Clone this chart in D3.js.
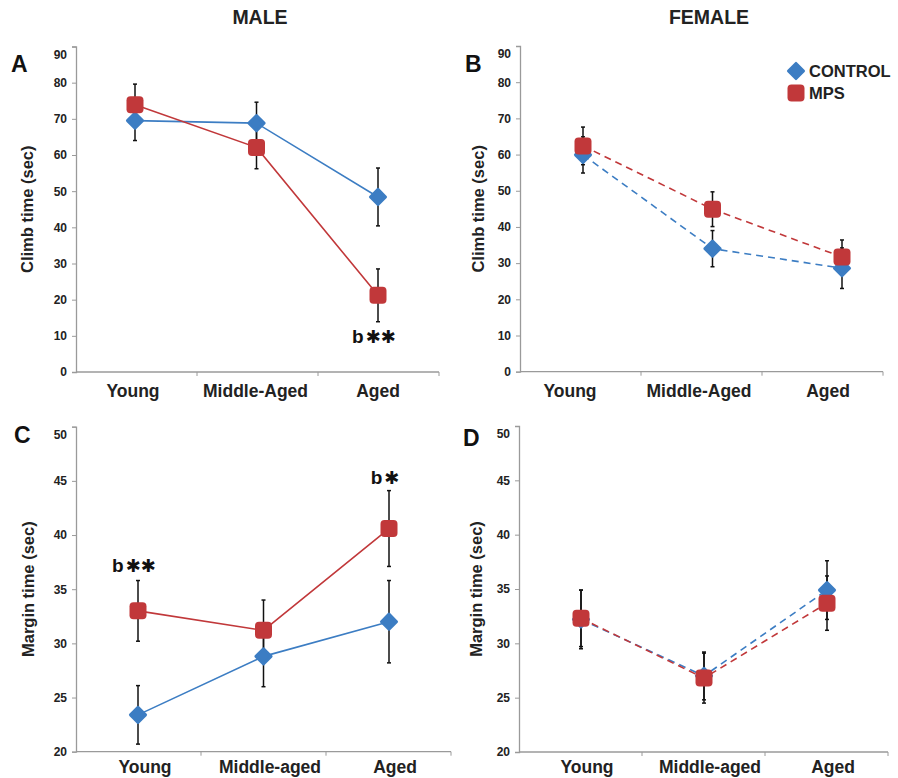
<!DOCTYPE html>
<html>
<head>
<meta charset="utf-8">
<script src="https://cdn.jsdelivr.net/npm/d3@7"></script>
<style>
  body { margin: 0; background: #fff; }
  text { font-family: "Liberation Sans", Arial, sans-serif; font-weight: bold; }
</style>
</head>
<body>
<svg width="898" height="778"></svg>
<script>
// categories
var ageGroupsUpper = ['Young', 'Middle-Aged', 'Aged'];
var ageGroupsLower = ['Young', 'Middle-aged', 'Aged'];

// climb time (sec), mean and error
var climbMaleControl = [69.5, 68.8, 48.4];
var climbMaleControlErr = [5.5, 5.8, 8.0];
var climbMaleMps = [73.9, 62.1, 21.2];
var climbMaleMpsErr = [5.7, 5.9, 7.3];
var climbFemaleControl = [59.9, 34.0, 28.6];
var climbFemaleControlErr = [5.0, 5.0, 5.6];
var climbFemaleMps = [62.4, 44.9, 31.7];
var climbFemaleMpsErr = [5.2, 4.8, 4.7];

// margin time (sec), mean and error
var marginMaleControl = [23.4, 28.8, 32.0];
var marginMaleControlErr = [2.7, 2.8, 3.8];
var marginMaleMps = [33.0, 31.2, 40.6];
var marginMaleMpsErr = [2.8, 2.8, 3.5];
var marginFemaleControl = [32.2, 27.0, 34.9];
var marginFemaleControlErr = [2.7, 2.2, 2.7];
var marginFemaleMps = [32.3, 26.8, 33.7];
var marginFemaleMpsErr = [2.6, 2.3, 2.5];

var climbTicks = [0, 10, 20, 30, 40, 50, 60, 70, 80, 90];
var marginTicks = [20, 25, 30, 35, 40, 45, 50];

var blue = '#3c7dc3';
var red = '#c1383a';

var svg = d3.select('svg');

// column titles
svg.append('text').attr('x', 260).attr('y', 24).attr('text-anchor', 'middle')
  .attr('font-size', 19.5).attr('fill', '#222').text('MALE');
svg.append('text').attr('x', 709).attr('y', 24).attr('text-anchor', 'middle')
  .attr('font-size', 19.5).attr('fill', '#222').text('FEMALE');

var panels = [
  { letter: 'A', lx: 11, ly: 72, cats: ageGroupsUpper, domain: [0, 90], ticks: climbTicks,
    x0: 76, x1: 439, y0: 372, y1: 46.5, pts: [135, 378], labs: [133, 378], titleX: 27,
    yTitle: 'Climb time (sec)', dashed: false,
    control: climbMaleControl, controlErr: climbMaleControlErr,
    mps: climbMaleMps, mpsErr: climbMaleMpsErr,
    notes: [{ i: 2, v: 10, t: 2 }] },
  { letter: 'B', lx: 465, ly: 72, cats: ageGroupsUpper, domain: [0, 90], ticks: climbTicks,
    x0: 520, x1: 883, y0: 371.7, y1: 46, pts: [583, 842], labs: [570, 828], titleX: 478,
    yTitle: 'Climb time (sec)', dashed: true,
    control: climbFemaleControl, controlErr: climbFemaleControlErr,
    mps: climbFemaleMps, mpsErr: climbFemaleMpsErr, legend: true, notes: [] },
  { letter: 'C', lx: 14, ly: 443, cats: ageGroupsLower, domain: [20, 50], ticks: marginTicks,
    x0: 76, x1: 451, y0: 751.7, y1: 426.7, pts: [138, 389], labs: [145, 395], titleX: 28,
    yTitle: 'Margin time (sec)', dashed: false,
    control: marginMaleControl, controlErr: marginMaleControlErr,
    mps: marginMaleMps, mpsErr: marginMaleMpsErr,
    notes: [{ i: 0, v: 37.2, t: 2 }, { i: 2, v: 45.4, t: 1 }] },
  { letter: 'D', lx: 463, ly: 446, cats: ageGroupsLower, domain: [20, 50], ticks: marginTicks,
    x0: 519, x1: 888, y0: 752, y1: 426, pts: [581, 827], labs: [587, 833], titleX: 476,
    yTitle: 'Margin time (sec)', dashed: true,
    control: marginFemaleControl, controlErr: marginFemaleControlErr,
    mps: marginFemaleMps, mpsErr: marginFemaleMpsErr, notes: [] }
];

var diamond = d3.symbol().type(d3.symbolDiamond2).size(145);

function drawDiamond(sel, color) {
  sel.attr('d', diamond)
    .attr('fill', color)
    .attr('stroke', color)
    .attr('stroke-width', 3)
    .attr('stroke-linejoin', 'round');
}

function toPoints(p, vals, errs) {
  return vals.map(function (v, i) { return { c: p.cats[i], v: v, e: errs[i] }; });
}

panels.forEach(function (p) {
  var g = svg.append('g');

  var y = d3.scaleLinear().domain(p.domain).range([p.y0, p.y1]);
  var xb = d3.scaleBand().domain(p.cats).range([p.x0, p.x1]);
  var x = d3.scalePoint().domain(p.cats).range(p.pts);
  var xl = d3.scalePoint().domain(p.cats).range(p.labs);

  // y axis
  var yAxis = d3.axisLeft(y).tickValues(p.ticks).tickSize(4).tickPadding(5);
  var ya = g.append('g').attr('transform', 'translate(' + p.x0 + ',0)').call(yAxis);
  ya.select('.domain').attr('stroke', '#9a9a9a').attr('stroke-width', 1.3);
  ya.selectAll('.tick line').attr('stroke', '#9a9a9a');
  ya.selectAll('.tick text').attr('font-size', 12).attr('fill', '#222')
    .style('font-family', '"Liberation Sans", Arial, sans-serif').style('font-weight', 'bold');
  // top label sits a little below its tick, as in the source figure
  ya.selectAll('.tick').filter(function (d) { return d === p.domain[1]; })
    .select('text').attr('y', 8);

  // x axis with boundaries between categories
  var xTicks = [p.x0 + xb.bandwidth(), p.x0 + 2 * xb.bandwidth(), p.x1];
  var xg = g.append('g');
  xg.append('line').attr('x1', p.x0).attr('x2', p.x1).attr('y1', p.y0).attr('y2', p.y0)
    .attr('stroke', '#9a9a9a').attr('stroke-width', 1.3);
  xg.selectAll(null).data(xTicks).enter().append('line')
    .attr('x1', function (d) { return d; }).attr('x2', function (d) { return d; })
    .attr('y1', p.y0).attr('y2', p.y0 + 4)
    .attr('stroke', '#9a9a9a');

  g.selectAll(null).data(p.cats).enter().append('text')
    .attr('x', function (d) { return xl(d); })
    .attr('y', p.y0 + (p.domain[1] === 90 ? 25 : 21))
    .attr('text-anchor', 'middle')
    .attr('font-size', 17.5)
    .attr('fill', '#222')
    .text(function (d) { return d; });

  // y title
  g.append('text')
    .attr('transform', 'translate(' + p.titleX + ',' + ((p.y0 + p.y1) / 2) + ') rotate(-90)')
    .attr('text-anchor', 'middle')
    .attr('dy', '0.35em')
    .attr('font-size', 16.5)
    .attr('fill', '#222')
    .text(p.yTitle);

  // panel letter
  g.append('text').attr('x', p.lx).attr('y', p.ly).attr('font-size', 23).attr('fill', '#111').text(p.letter);

  var series = [
    { data: toPoints(p, p.control, p.controlErr), color: blue, square: false },
    { data: toPoints(p, p.mps, p.mpsErr), color: red, square: true }
  ];

  // connecting lines
  series.forEach(function (s) {
    g.append('path')
      .datum(s.data)
      .attr('fill', 'none')
      .attr('stroke', s.color)
      .attr('stroke-width', 1.6)
      .attr('stroke-dasharray', p.dashed ? '7,5' : null)
      .attr('d', d3.line().x(function (d) { return x(d.c); }).y(function (d) { return y(d.v); }));
  });

  // error bars
  series.forEach(function (s) {
    var eb = g.selectAll(null).data(s.data).enter().append('g')
      .attr('stroke', '#111').attr('stroke-width', 1.5);
    eb.append('line')
      .attr('x1', function (d) { return x(d.c); }).attr('x2', function (d) { return x(d.c); })
      .attr('y1', function (d) { return y(d.v - d.e); }).attr('y2', function (d) { return y(d.v + d.e); });
    [1, -1].forEach(function (k) {
      eb.append('line')
        .attr('x1', function (d) { return x(d.c) - 2; }).attr('x2', function (d) { return x(d.c) + 2; })
        .attr('y1', function (d) { return y(d.v + k * d.e); }).attr('y2', function (d) { return y(d.v + k * d.e); });
    });
  });

  // markers on top
  series.forEach(function (s) {
    if (s.square) {
      g.selectAll(null).data(s.data).enter().append('rect')
        .attr('x', function (d) { return x(d.c) - 8.5; })
        .attr('y', function (d) { return y(d.v) - 8.5; })
        .attr('width', 17).attr('height', 17).attr('rx', 4)
        .attr('fill', s.color);
    } else {
      g.selectAll(null).data(s.data).enter().append('path')
        .attr('transform', function (d) { return 'translate(' + x(d.c) + ',' + y(d.v) + ')'; })
        .call(drawDiamond, s.color);
    }
  });

  // significance marks: "b" followed by heavy asterisks
  p.notes.forEach(function (n) {
    var t = g.append('text')
      .attr('x', x(p.cats[n.i]) - 4)
      .attr('y', y(n.v) + 7)
      .attr('text-anchor', 'middle')
      .attr('font-size', 19)
      .attr('fill', '#111');
    t.append('tspan').text('b');
    t.append('tspan')
      .style('font-family', '"DejaVu Sans", sans-serif')
      .attr('font-size', 18)
      .attr('dx', 2)
      .text(d3.range(n.t).map(function () { return '\u2731'; }).join(''));
  });

  if (p.legend) {
    var lg = g.append('g');
    lg.append('path').attr('transform', 'translate(796,71)').call(drawDiamond, blue);
    lg.append('rect').attr('x', 787.5).attr('y', 84.5).attr('width', 17).attr('height', 17).attr('rx', 4).attr('fill', red);
    lg.append('text').attr('x', 809).attr('y', 77).attr('font-size', 16.5).attr('fill', '#222').text('CONTROL');
    lg.append('text').attr('x', 809).attr('y', 99).attr('font-size', 16.5).attr('fill', '#222').text('MPS');
  }
});
</script>
</body>
</html>
